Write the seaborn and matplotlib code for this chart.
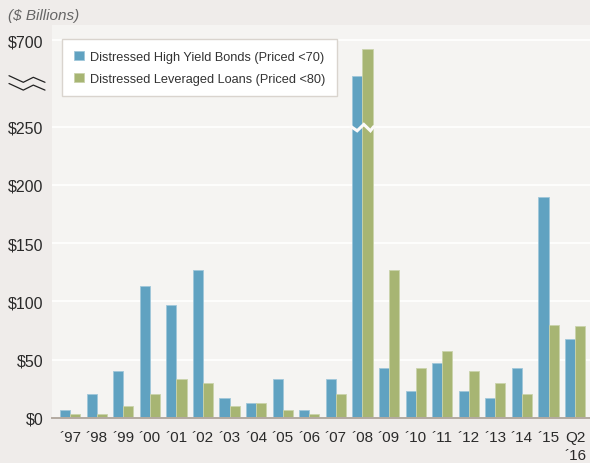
import numpy as np
import pandas as pd
import matplotlib
matplotlib.use("Agg")
import matplotlib.pyplot as plt
import seaborn as sns
from matplotlib.lines import Line2D

# ---- data ($ billions) ----
years = ["´97", "´98", "´99", "´00", "´01", "´02", "´03", "´04", "´05", "´06",
         "´07", "´08", "´09", "´10", "´11", "´12", "´13", "´14", "´15", "Q2\n´16"]
high_yield = [7, 20, 40, 113, 97, 127, 17, 13, 33, 7,
              33, 513, 43, 23, 47, 23, 17, 43, 190, 68]
lev_loans = [3, 3, 10, 20, 33, 30, 10, 13, 7, 3,
             20, 653, 127, 43, 57, 40, 30, 20, 80, 79]
series_names = ["Distressed High Yield Bonds (Priced <70)",
                "Distressed Leveraged Loans (Priced <80)"]
y_ticks = [0, 50, 100, 150, 200, 250, 700]
y_tick_labels = ["$0", "$50", "$100", "$150", "$200", "$250", "$700"]

BLUE = "#60a2c1"
GREEN = "#a7b573"
FIG_BG = "#efecea"
AX_BG = "#f5f4f2"
TEXT = "#2a2a2a"

# ---- broken value axis: values above the break are squeezed ----
BREAK = 250
SQUEEZE = 0.1655


def fwd(v):
    v = np.asarray(v, dtype=float)
    return np.where(v <= BREAK, v, BREAK + (v - BREAK) * SQUEEZE)


def inv(v):
    v = np.asarray(v, dtype=float)
    return np.where(v <= BREAK, v, BREAK + (v - BREAK) / SQUEEZE)


sns.set_theme(style="white")
plt.rcParams["font.family"] = ["Liberation Sans", "DejaVu Sans"]

W, H = 590, 464
fig = plt.figure(figsize=(W / 100, H / 100), dpi=100, facecolor=FIG_BG)
ax = fig.add_axes([52 / W, 45.3 / H, 538 / W, 392.7 / H])
ax.set_facecolor(AX_BG)

df = pd.DataFrame({
    "year": years * 2,
    "value": high_yield + lev_loans,
    "series": [series_names[0]] * len(years) + [series_names[1]] * len(years),
})

sns.barplot(data=df, x="year", y="value", hue="series", order=years,
            hue_order=series_names, palette=[BLUE, GREEN], width=0.76,
            saturation=1, ax=ax)

# soft light rim on each bar
for p in ax.patches:
    fc = np.array(p.get_facecolor()[:3])
    p.set_edgecolor(tuple(fc + (1 - fc) * 0.4))
    p.set_linewidth(0.6)

ax.set_yscale("function", functions=(fwd, inv))
ax.set_ylim(0, 778)
ax.set_xlim(-0.68, len(years) - 0.44)
ax.set_yticks(y_ticks)
ax.set_yticklabels(y_tick_labels)
ax.yaxis.set_minor_locator(matplotlib.ticker.NullLocator())
ax.set_xlabel("")
ax.set_ylabel("")

ax.set_axisbelow(True)
ax.yaxis.grid(True, color="white", linewidth=1.2)
ax.xaxis.grid(False)
for side in ["top", "right", "left"]:
    ax.spines[side].set_visible(False)
ax.spines["bottom"].set_color("#b3aaa1")
ax.spines["bottom"].set_linewidth(1.4)
ax.tick_params(axis="both", length=0, colors=TEXT)
ax.tick_params(axis="y", pad=6, labelsize=11.5)
ax.tick_params(axis="x", pad=9, labelsize=11)
for lbl in ax.get_xticklabels():
    lbl.set_linespacing(1.35)

# white notch across the clipped 2008 bars
i08 = years.index("´08")
notch_x = i08 + np.array([-0.42, -0.2, 0.05, 0.3, 0.42])
notch_y = [BREAK, BREAK - 3.5, BREAK + 12.0, BREAK - 3.5, BREAK]
ax.plot(notch_x, notch_y, color="#fbfaf9", linewidth=2.2,
        solid_joinstyle="miter", zorder=5)

# break marker on the value axis
zx = np.array([9, 23.3, 33.3, 45])
zy = np.array([76.7, 83.3, 78.3, 83.3])
for dy in (0, 7.8):
    fig.add_artist(Line2D(zx / W, 1 - (zy + dy) / H, transform=fig.transFigure,
                          color="#222222", linewidth=0.9))

# legend
handles, labels = ax.get_legend_handles_labels()
ax.legend(handles, labels, loc="upper left", bbox_to_anchor=(0.0186, 0.964),
          frameon=True, fancybox=False, facecolor="white", edgecolor="#d9d4ce",
          framealpha=1, fontsize=9.2, labelcolor="#333333",
          handlelength=0.8, handleheight=0.8, handletextpad=0.5,
          labelspacing=0.75, borderpad=0.9, borderaxespad=0)

fig.text(8 / W, 1 - 16 / H, "($ Billions)", style="italic", color="#666666",
         fontsize=11, va="center", ha="left")

fig.savefig("out.png", dpi=100, facecolor=fig.get_facecolor())
